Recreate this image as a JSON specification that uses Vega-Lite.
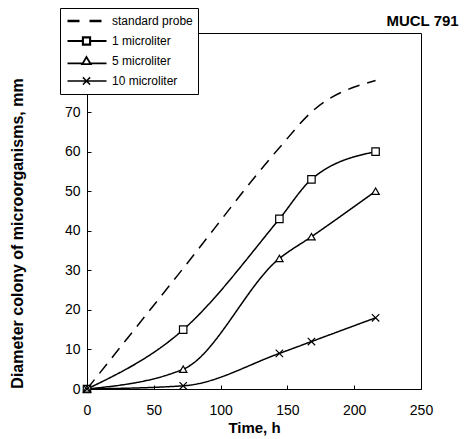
{
  "$schema": "https://vega.github.io/schema/vega-lite/v6.json",
  "width": 334,
  "height": 356,
  "autosize": "none",
  "padding": {"left": 87, "top": 33, "right": 49, "bottom": 50},
  "background": "white",
  "title": {"text": "MUCL 791", "anchor": "end", "dx": 26, "dy": 28, "offset": 7, "font": "Liberation Sans", "fontSize": 15, "fontWeight": "bold", "color": "black"},
  "config": {
    "view": {"stroke": "black", "strokeWidth": 1},
    "font": "Liberation Sans",
    "axis": {
      "grid": false,
      "domainColor": "black",
      "tickColor": "black",
      "labelColor": "black",
      "titleColor": "black",
      "labelFont": "Liberation Sans",
      "titleFont": "Liberation Sans",
      "labelFontSize": 14,
      "titleFontSize": 15,
      "titleFontWeight": "bold",
      "labelFlush": false
    }
  },
  "data": {
    "values": [
      {"series": "standard probe", "time": 0, "diameter": 0},
      {"series": "standard probe", "time": 72, "diameter": 30.5},
      {"series": "standard probe", "time": 144, "diameter": 61},
      {"series": "standard probe", "time": 168, "diameter": 70},
      {"series": "standard probe", "time": 216, "diameter": 78},
      {"series": "1 microliter", "time": 0, "diameter": 0},
      {"series": "1 microliter", "time": 72, "diameter": 15},
      {"series": "1 microliter", "time": 144, "diameter": 43},
      {"series": "1 microliter", "time": 168, "diameter": 53},
      {"series": "1 microliter", "time": 216, "diameter": 60},
      {"series": "5 microliter", "time": 0, "diameter": 0},
      {"series": "5 microliter", "time": 72, "diameter": 5},
      {"series": "5 microliter", "time": 144, "diameter": 33},
      {"series": "5 microliter", "time": 168, "diameter": 38.5},
      {"series": "5 microliter", "time": 216, "diameter": 50},
      {"series": "10 microliter", "time": 0, "diameter": 0},
      {"series": "10 microliter", "time": 72, "diameter": 0.8},
      {"series": "10 microliter", "time": 144, "diameter": 9},
      {"series": "10 microliter", "time": 168, "diameter": 12},
      {"series": "10 microliter", "time": 216, "diameter": 18}
    ]
  },
  "encoding": {
    "x": {
      "field": "time", "type": "quantitative",
      "scale": {"domain": [0, 250], "nice": false},
      "axis": {"title": "Time, h", "values": [0, 50, 100, 150, 200, 250], "tickSize": -4, "labelPadding": 18, "titlePadding": 3}
    },
    "y": {
      "field": "diameter", "type": "quantitative",
      "scale": {"domain": [0, 90], "nice": false},
      "axis": {"title": "Diameter colony of microorganisms, mm", "titleFontSize": 16, "values": [0, 10, 20, 30, 40, 50, 60, 70, 80, 90], "tickSize": -4, "labelPadding": 11, "titleY": 200, "titleX": -62}
    }
  },
  "layer": [
    {
      "mark": {"type": "line", "interpolate": "monotone", "strokeWidth": 1.5},
      "encoding": {
        "color": {
          "field": "series", "type": "nominal",
          "scale": {"domain": ["standard probe", "1 microliter", "5 microliter", "10 microliter"], "range": ["black", "black", "black", "black"]},
          "legend": {
            "orient": "none",
            "legendX": -27,
            "legendY": -25,
            "title": null,
            "strokeColor": "black",
            "fillColor": "white",
            "padding": 5,
            "labelFont": "Liberation Sans",
            "labelFontSize": 12,
            "labelColor": "black",
            "labelOffset": 4,
            "symbolSize": 1600,
            "clipHeight": 16,
            "rowPadding": 4,
            "encode": {
              "symbols": {
                "update": {
                  "shape": {"signal": "datum.value === 'standard probe' ? 'M-0.95,0H-0.35M0.15,0H0.8' : datum.value === '1 microliter' ? 'M-0.95,0H-0.18M0.18,0H1M-0.18,-0.18H0.18V0.18H-0.18Z' : datum.value === '5 microliter' ? 'M-0.95,0.12H-0.2M0.2,0.12H1M0,-0.2L0.21,0.16H-0.21Z' : 'M-0.95,0H1M-0.18,-0.18L0.18,0.18M0.18,-0.18L-0.18,0.18'"},
                  "strokeDash": {"value": []},
                  "fill": {"value": "white"},
                  "fillOpacity": {"value": 1},
                  "stroke": {"value": "black"},
                  "strokeOpacity": {"value": 1},
                  "opacity": {"value": 1},
                  "strokeWidth": {"signal": "datum.value === 'standard probe' ? 2.4 : 1.2"}
                }
              }
            }
          }
        },
        "strokeDash": {
          "field": "series", "type": "nominal",
          "scale": {"domain": ["standard probe", "1 microliter", "5 microliter", "10 microliter"], "range": [[12, 8], [1, 0], [1, 0], [1, 0]]},
          "legend": null
        },
        "strokeWidth": {
          "field": "series", "type": "nominal",
          "scale": {"domain": ["standard probe", "1 microliter", "5 microliter", "10 microliter"], "range": [2.4, 1.5, 1.3, 1.6]},
          "legend": null
        }
      }
    },
    {
      "transform": [{"filter": "datum.series !== 'standard probe'"}],
      "mark": {"type": "point", "fill": "white", "stroke": "black", "strokeWidth": 1.2, "opacity": 1, "size": 55},
      "encoding": {
        "shape": {
          "field": "series", "type": "nominal",
          "scale": {"domain": ["1 microliter", "5 microliter", "10 microliter"], "range": ["square", "triangle-up", "M-1,-1L1,1M1,-1L-1,1"]},
          "legend": null
        }
      }
    }
  ]
}
